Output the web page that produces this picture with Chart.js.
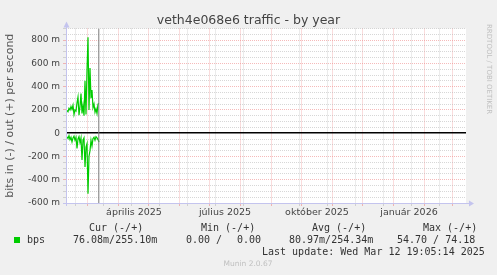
<!DOCTYPE html>
<html><head><meta charset="utf-8">
<script src="https://cdn.jsdelivr.net/npm/chart.js@4/dist/chart.umd.min.js"></script>
<style>
html,body{margin:0;padding:0;background:#f0f0f0;}
#wrap{position:relative;width:497px;height:275px;overflow:hidden;background:#f0f0f0;}
canvas{position:absolute;left:0;top:0;}
.t{position:absolute;white-space:pre;font-family:'DejaVu Sans Mono',monospace;font-size:10px;line-height:12px;color:#333;}
.sq{position:absolute;left:14px;top:237px;width:6px;height:6px;background:#00cc00;}
.munin{position:absolute;left:198px;width:100px;top:259px;text-align:center;font-family:'DejaVu Sans',sans-serif;font-size:7.5px;line-height:10px;color:#c0c0c0;}
.rrd{position:absolute;left:485px;top:24px;writing-mode:vertical-rl;font-family:'DejaVu Sans',sans-serif;font-size:7px;line-height:8px;color:#c0c0c0;white-space:nowrap;}
</style></head><body>
<div id="wrap">
<canvas id="c" width="497" height="275"></canvas>
<div class="t" style="left:89px;top:222px">Cur (-/+)</div>
<div class="t" style="left:201px;top:222px">Min (-/+)</div>
<div class="t" style="left:312px;top:222px">Avg (-/+)</div>
<div class="t" style="left:423px;top:222px">Max (-/+)</div>
<div class="sq"></div>
<div class="t" style="left:27px;top:234px">bps</div>
<div class="t" style="left:73px;top:234px">76.08m/255.10m</div>
<div class="t" style="left:186px;top:234px">0.00 /</div>
<div class="t" style="left:237px;top:234px">0.00</div>
<div class="t" style="left:289px;top:234px">80.97m/254.34m</div>
<div class="t" style="left:397px;top:234px">54.70 / 74.18</div>
<div class="t" style="left:262px;top:246px">Last update: Wed Mar 12 19:05:14 2025</div>
<div class="munin">Munin 2.0.67</div>
<div class="rrd">RRDTOOL / TOBI OETIKER</div>
</div>
<script>
// day offsets counted from 8 Feb 2025 (left edge of the 400-day window)
const days = [1,2,3,4,5,6,7,8,9,10,11,12,13,14,15,16,17,18,19,20,21,22,23,24,25,26,27,28,29,30,31,32,33];
// bits out (+), in milli-bits per second
const outMilliBps = [195,185,215,200,230,205,240,160,200,190,260,310,155,230,340,170,240,150,450,160,540,825,200,560,300,370,220,250,180,210,170,250,255];
// bits in (-), in milli-bits per second
const inMilliBps = [30,45,20,55,35,75,40,25,60,35,130,50,30,80,40,230,60,40,290,120,90,520,200,150,60,110,45,35,60,30,40,55,76];
const nowDay = 32.8;
const monthStartDays = [21,52,82,113,143,174,205,235,266,296,327,358,386];
const minorGridDays = [9,37,65,93,121,149,177,233,261,289,317,345,373];
const monthLabelDays = [68,159,251,343];
const monthLabels = ['április 2025','július 2025','október 2025','január 2026'];
const yMin = -600, yMax = 900, yStep = 50, yLabelStep = 200;
const title = 'veth4e068e6 traffic - by year';
const yTitle = 'bits in (-) / out (+) per second';

const kind = {}, labelText = {};
minorGridDays.forEach(d => kind[d] = 'minor');
monthStartDays.forEach(d => kind[d] = 'major');
monthLabelDays.forEach((d, i) => { kind[d] = 'label'; labelText[d] = monthLabels[i]; });
const xTickValues = Object.keys(kind).map(Number).sort((a, b) => a - b);

const RED = 'rgba(236,130,130,0.55)', GRAY = 'rgba(175,175,175,0.5)', AXIS = '#c4c4ee';

const bgPlugin = {
  id: 'bg',
  beforeDraw(chart) {
    const {ctx, chartArea: a} = chart;
    ctx.save(); ctx.fillStyle = '#ffffff';
    ctx.fillRect(a.left, a.top, a.right - a.left, a.bottom - a.top);
    ctx.restore();
  },
  afterDraw(chart) {
    const {ctx, chartArea: a} = chart;
    ctx.save();
    ctx.strokeStyle = AXIS; ctx.fillStyle = AXIS; ctx.lineWidth = 1;
    ctx.beginPath();
    ctx.moveTo(a.left + 0.5, a.bottom + 3); ctx.lineTo(a.left + 0.5, a.top - 2);
    ctx.moveTo(a.left - 3, a.bottom + 0.5); ctx.lineTo(a.right + 4, a.bottom + 0.5);
    ctx.stroke();
    ctx.beginPath();
    ctx.moveTo(a.left + 0.5, a.top - 7); ctx.lineTo(a.left - 2.5, a.top - 1); ctx.lineTo(a.left + 3.5, a.top - 1); ctx.closePath();
    ctx.fill();
    ctx.beginPath();
    ctx.moveTo(a.right + 8, a.bottom + 0.5); ctx.lineTo(a.right + 3, a.bottom - 2.5); ctx.lineTo(a.right + 3, a.bottom + 3.5); ctx.closePath();
    ctx.fill();
    ctx.restore();
  }
};

Chart.defaults.font.family = "'DejaVu Sans', sans-serif";

new Chart(document.getElementById('c'), {
  type: 'line',
  data: {
    datasets: [
      { data: [{x: nowDay, y: yMin}, {x: nowDay, y: yMax}], borderColor: '#7a7a7a', borderWidth: 1, pointRadius: 0 },
      { data: days.map((d, i) => ({x: d, y: outMilliBps[i]})), borderColor: '#00cc00', borderWidth: 1.2, pointRadius: 0, tension: 0 },
      { data: days.map((d, i) => ({x: d, y: -inMilliBps[i]})), borderColor: '#00cc00', borderWidth: 1.2, pointRadius: 0, tension: 0 }
    ]
  },
  options: {
    responsive: false, animation: false, devicePixelRatio: 1,
    layout: { padding: { left: 0, right: 0, top: 0, bottom: 0 } },
    plugins: {
      legend: { display: false }, tooltip: { enabled: false },
      title: { display: true, text: title, color: '#444', font: { size: 12.5, weight: 'normal' }, padding: { top: 13.5, bottom: 0 } }
    },
    scales: {
      x: {
        type: 'linear', min: 0, max: 400,
        afterBuildTicks: s => { s.ticks = xTickValues.map(v => ({ value: v })); },
        afterFit: s => { s.height = 72; },
        ticks: { autoSkip: false, maxRotation: 0, minRotation: 0, padding: 1, color: '#444', font: { size: 9.5 },
          callback: v => labelText[v] || '' },
        grid: {
          color: c => { const k = c.tick && kind[c.tick.value]; return k === 'major' ? RED : k === 'minor' ? GRAY : 'rgba(0,0,0,0)'; },
          tickColor: c => { const k = c.tick && kind[c.tick.value]; return k === 'major' ? RED : k === 'minor' ? GRAY : 'rgba(0,0,0,0)'; },
          tickLength: 3, lineWidth: 1
        },
        border: { display: false, dash: c => c.tick ? [1, 1] : [] }
      },
      y: {
        type: 'linear', min: yMin, max: yMax,
        afterFit: s => { s.width = 66; },
        ticks: { stepSize: yStep, autoSkip: false, padding: 3, color: '#444', font: { size: 9 },
          callback: v => v === 0 ? '0' : (v % yLabelStep === 0 ? v + ' m' : '') },
        grid: {
          color: c => { const v = c.tick && c.tick.value; return v === 0 ? '#000000' : (v % yLabelStep === 0 ? RED : GRAY); },
          tickColor: c => { const v = c.tick && c.tick.value; return v === 0 ? 'rgba(0,0,0,0)' : (v % yLabelStep === 0 ? RED : GRAY); },
          lineWidth: c => (c.tick && c.tick.value === 0) ? 1.5 : 1,
          tickLength: 3
        },
        border: { display: false, dash: c => (c.tick && c.tick.value !== 0) ? [1, 1] : [] },
        title: { display: true, text: yTitle, color: '#555', font: { size: 11 }, padding: { top: 4, bottom: 0 } }
      },
      yRight: {
        type: 'linear', position: 'right', min: yMin, max: yMax,
        afterFit: s => { s.width = 31; },
        ticks: { display: false }, grid: { display: false, drawOnChartArea: false }, border: { display: false }
      }
    }
  },
  plugins: [bgPlugin]
});
</script>
</body></html>
